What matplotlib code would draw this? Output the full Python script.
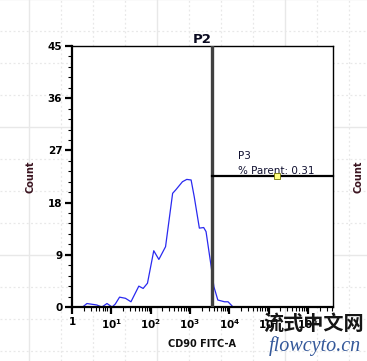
import numpy as np
import matplotlib
matplotlib.use('Agg')
import matplotlib.pyplot as plt
from matplotlib.ticker import FixedLocator, LogLocator, NullFormatter

# histogram trace (log10 of CD90 FITC-A, count)
log_x = [0.27, 0.38, 0.63, 0.76, 0.89, 1.02, 1.10, 1.21, 1.36, 1.50, 1.70, 1.81,
         1.92, 2.08, 2.21, 2.38, 2.56, 2.64, 2.81, 2.92, 3.03, 3.11, 3.24, 3.35,
         3.41, 3.54, 3.61, 3.71, 3.88, 3.97, 4.07]
counts = [0.0, 0.6, 0.35, 0.0, 0.6, 0.0, 0.5, 1.7, 1.5, 0.9, 3.6, 3.2,
          4.1, 9.7, 8.2, 10.4, 19.6, 20.2, 21.6, 22.0, 21.9, 19.0, 13.6, 13.7,
          13.0, 7.0, 3.5, 1.2, 0.9, 0.9, 0.2]

gate_p2 = 3600          # vertical divider
gate_p3_y = 22.6        # horizontal gate level
handle_x = 1.65e5       # yellow handle position
y_ticks = [0, 9, 18, 27, 36, 45]
x_ticks = [1, 1e1, 1e2, 1e3, 1e4, 1e5, 1e6]
x_labels = ['1', '$\\mathbf{10^1}$', '$\\mathbf{10^2}$', '$\\mathbf{10^3}$',
            '$\\mathbf{10^4}$', '$\\mathbf{10^5}$', '$\\mathbf{10^6}$']

W, H = 367, 361
fig = plt.figure(figsize=(W / 100, H / 100), dpi=100)

# faint page grid behind the plot
bg = fig.add_axes([0, 0, 1, 1], zorder=0)
bg.set_xlim(0, W)
bg.set_ylim(H, 0)
bg.axis('off')
for i, gx in enumerate(range(29, W, 32)):
    bg.axvline(gx, color='#e8e8e8', lw=1 if i % 4 == 0 else 0.9,
               ls='-' if i % 4 == 0 else (0, (1.5, 2)))
for i, gy in enumerate(range(-1, H, 32)):
    bg.axhline(gy, color='#e8e8e8', lw=1 if i % 4 == 0 else 0.9,
               ls='-' if i % 4 == 0 else (0, (1.5, 2)))

ax = fig.add_axes([72 / W, 1 - 307 / H, 261 / W, 261 / H], zorder=2)
ax.set_facecolor('white')
ax.plot(10 ** np.array(log_x), counts, color='#2a2af0', lw=0.9)

ax.set_xscale('log')
ax.set_xlim(1, 10 ** 6.64)
ax.set_ylim(0, 45)

ax.axvline(gate_p2, color='#404040', lw=2.4, zorder=3)
ax.plot([gate_p2, 10 ** 6.64], [gate_p3_y, gate_p3_y], color='black', lw=1.6, zorder=3,
        clip_on=False)
ax.plot([handle_x], [gate_p3_y], marker='s', ms=5, mfc='#ffff80', mec='#707000',
        mew=0.6, zorder=4)
ax.text(1.65e4, gate_p3_y + 3.0, 'P3', fontsize=7.5, color='#101030')
ax.text(1.65e4, gate_p3_y + 0.3, '% Parent: 0.31', fontsize=7.5, color='#101030')

ax.yaxis.set_major_locator(FixedLocator(y_ticks))
ax.yaxis.set_minor_locator(FixedLocator(np.arange(0, 45.1, 1.8)))
ax.set_xticks(x_ticks)
ax.set_xticklabels(x_labels)
ax.xaxis.set_minor_locator(LogLocator(base=10, subs=np.arange(2, 10)))
ax.xaxis.set_minor_formatter(NullFormatter())

ax.tick_params(which='major', length=5, width=1.6, labelsize=7.5, pad=2)
ax.tick_params(which='minor', length=3, width=0.8)
for lab in ax.get_yticklabels() + ax.get_xticklabels():
    lab.set_fontweight('bold')
for s in ax.spines.values():
    s.set_linewidth(1.0)
ax.spines['left'].set_linewidth(1.6)
ax.spines['bottom'].set_linewidth(1.6)

ax.set_title('P2', fontsize=9.5, fontweight='bold', pad=1, color='#0a0a20')
ax.set_ylabel('Count', fontsize=7, fontweight='bold', color='#3b1420', labelpad=9)
ax.set_xlabel('CD90 FITC-A', fontsize=7, fontweight='bold', color='#101010', labelpad=6)

fig.text(358 / W, 1 - 177 / H, 'Count', rotation=90, fontsize=7, fontweight='bold',
         color='#3b1420', ha='center', va='center', zorder=3)

# site watermark
fig.text(314 / W, 1 - 323 / H, '流式中文网', fontsize=14.5, fontweight='bold',
         family=['Noto Sans CJK SC', 'DejaVu Sans'], color='#151515',
         ha='center', va='center', zorder=5)
fig.text(315 / W, 1 - 346 / H, 'flowcyto.cn', fontsize=14.5, style='italic',
         family='Liberation Serif', color='#34589a', ha='center', va='center', zorder=5)

fig.savefig('out.png', dpi=100)
